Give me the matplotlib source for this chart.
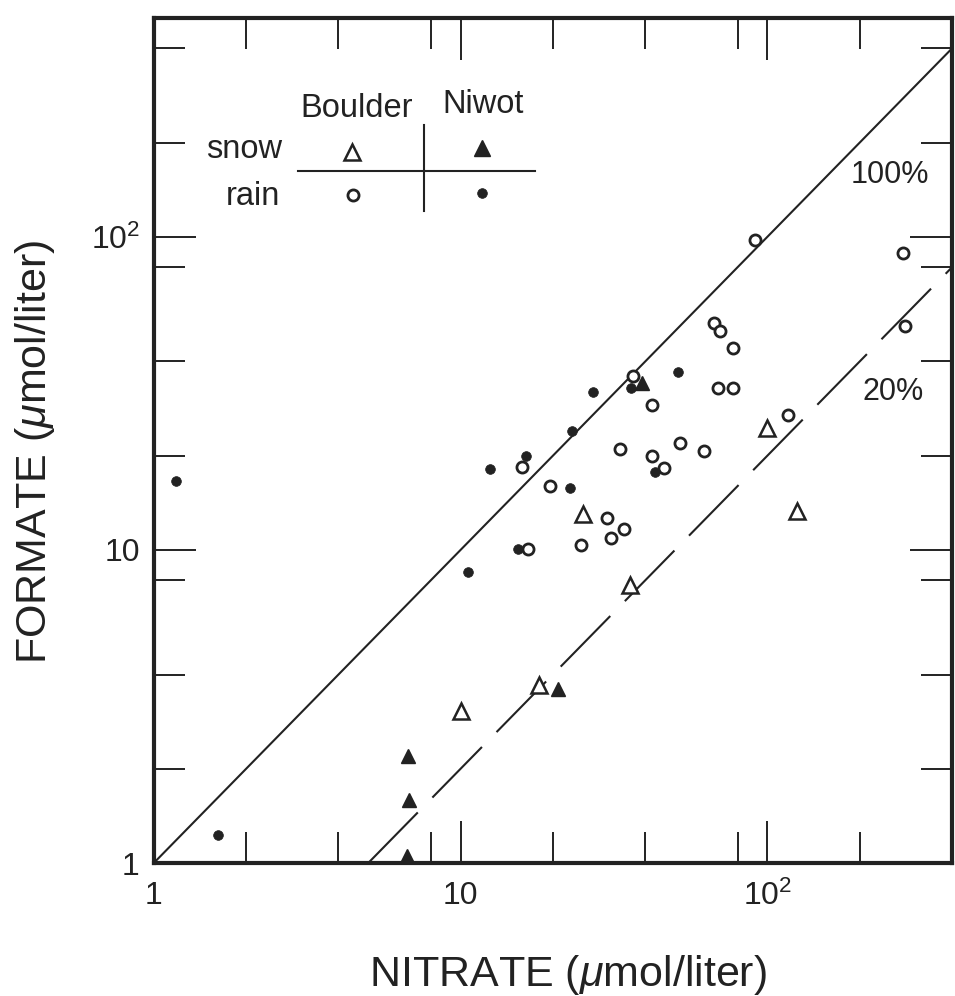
import numpy as np
import matplotlib
matplotlib.use('Agg')
import matplotlib.pyplot as plt
from matplotlib.ticker import FixedLocator, FixedFormatter, NullFormatter

plt.rcParams['font.family'] = ['Liberation Sans', 'DejaVu Sans']
plt.rcParams['mathtext.fontset'] = 'custom'
plt.rcParams['mathtext.rm'] = 'Liberation Sans'
plt.rcParams['mathtext.it'] = 'Liberation Sans:italic'

INK = '#222222'

# data (nitrate, formate), umol/liter
boulder_rain_x = [91, 276, 280, 67, 70, 77, 69, 77, 36.5, 42, 33, 42, 52, 46, 62, 117,
                  15.8, 19.5, 30, 34, 31, 24.6, 16.6]
boulder_rain_y = [98, 89, 52, 53, 50, 44, 33, 33, 36, 29, 21, 20, 22, 18.3, 20.7, 27,
                  18.4, 16, 12.6, 11.7, 10.9, 10.4, 10.1]

niwot_rain_x = [1.18, 1.62, 10.6, 12.5, 16.3, 23, 27, 36, 51, 22.8, 15.4, 43]
niwot_rain_y = [16.6, 1.23, 8.5, 18.1, 19.9, 24, 32, 33, 37, 15.8, 10.1, 17.7]

boulder_snow_x = [25, 35.6, 18, 10, 100, 125]
boulder_snow_y = [13, 7.7, 3.7, 3.07, 24.5, 13.3]

niwot_snow_x = [39, 20.8, 6.76, 6.8, 6.7]
niwot_snow_y = [34, 3.6, 2.2, 1.59, 1.05]

ratio_lines = [1.0, 0.2]
ratio_labels = ['100%', '20%']

major_ticks = [1, 10, 100]
major_labels = ['1', '10', '10$^2$']
minor_ticks = [2, 4, 8, 20, 40, 80, 200, 400]

fig = plt.figure(figsize=(9.55, 9.96), dpi=100)
ax = fig.add_axes([0.161, 0.1335, 0.836, 0.8485])
ax.set_xscale('log')
ax.set_yscale('log')
ax.set_xlim(1, 400)
ax.set_ylim(1, 500)

# 100% and 20% lines
xx = np.array([1, 400])
ax.plot(xx, ratio_lines[0] * xx, color=INK, lw=1.5, zorder=2)
xx2 = np.array([1 / ratio_lines[1], 400])
ax.plot(xx2, ratio_lines[1] * xx2, color=INK, lw=1.5, dashes=(34, 10), zorder=2)

ax.plot(boulder_rain_x, boulder_rain_y, 'o', ms=8, mfc='white', mec=INK, mew=2, zorder=3)
ax.plot(niwot_rain_x, niwot_rain_y, 'o', ms=7, mfc=INK, mec=INK, mew=0.5, zorder=3)
ax.plot(boulder_snow_x, boulder_snow_y, '^', ms=11, mfc='white', mec=INK, mew=1.8, zorder=3)
ax.plot(niwot_snow_x, niwot_snow_y, '^', ms=10, mfc=INK, mec=INK, mew=1, zorder=3,
        clip_on=False)

ax.text(0.9223, 0.8047, ratio_labels[0], transform=ax.transAxes, fontsize=22,
        ha='center', va='baseline', color=INK)
ax.text(0.926, 0.548, ratio_labels[1], transform=ax.transAxes, fontsize=22,
        ha='center', va='baseline', color=INK)

# hand-drawn style key
tA = ax.transAxes
ax.text(0.2544, 0.8828, 'Boulder', transform=tA, fontsize=23.5, ha='center', va='baseline', color=INK)
ax.text(0.4123, 0.8876, 'Niwot', transform=tA, fontsize=23.5, ha='center', va='baseline', color=INK)
ax.text(0.1604, 0.8343, 'snow', transform=tA, fontsize=23.5, ha='right', va='baseline', color=INK)
ax.text(0.158, 0.7787, 'rain', transform=tA, fontsize=23.5, ha='right', va='baseline', color=INK)
ax.plot([0.1805, 0.4774], [0.8189, 0.8189], transform=tA, color=INK, lw=1.5)
ax.plot([0.3383, 0.3383], [0.8734, 0.7716], transform=tA, color=INK, lw=1.5)
ax.plot([0.2481], [0.8414], '^', transform=tA, ms=11, mfc='white', mec=INK, mew=1.8)
ax.plot([0.411], [0.8462], '^', transform=tA, ms=11, mfc=INK, mec=INK, mew=1)
ax.plot([0.2494], [0.7905], 'o', transform=tA, ms=8, mfc='white', mec=INK, mew=2)
ax.plot([0.411], [0.7929], 'o', transform=tA, ms=7, mfc=INK, mec=INK, mew=0.5)

for axis in (ax.xaxis, ax.yaxis):
    axis.set_major_locator(FixedLocator(major_ticks))
    axis.set_major_formatter(FixedFormatter(major_labels))
    axis.set_minor_locator(FixedLocator(minor_ticks))
    axis.set_minor_formatter(NullFormatter())

ax.tick_params(which='both', direction='in', top=True, right=True, colors=INK, width=1.4)
ax.tick_params(which='major', length=30, labelsize=23)
ax.tick_params(which='minor', length=22)
ax.tick_params(axis='x', which='major', pad=13)
ax.tick_params(axis='y', which='major', pad=10)
for s in ax.spines.values():
    s.set_linewidth(3)
    s.set_color(INK)

ax.set_xlabel('NITRATE ($\\mu$mol/liter)', fontsize=31, color=INK)
ax.set_ylabel('FORMATE ($\\mu$mol/liter)', fontsize=31, color=INK)
ax.xaxis.set_label_coords(0.519, -0.1065)
ax.yaxis.set_label_coords(-0.1215, 0.486)

fig.savefig('out.png', dpi=100)
